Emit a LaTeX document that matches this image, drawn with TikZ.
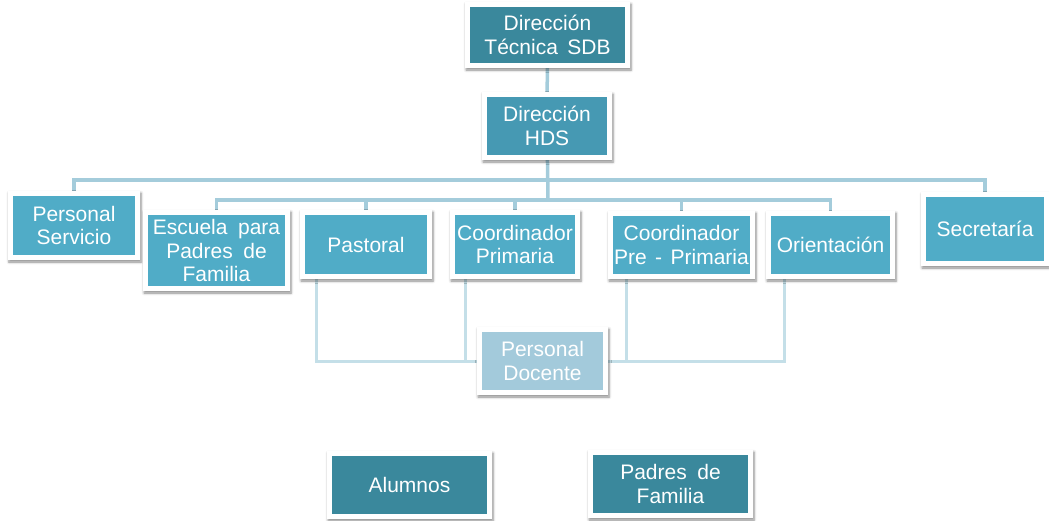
\documentclass[tikz,border=0pt]{standalone}
\usepackage{fontspec}
\setmainfont{Liberation Sans}
\usepackage{tikz}
\usetikzlibrary{shadows,shadows.blur,backgrounds,positioning}

\definecolor{tealdark}{HTML}{3A889C}
\definecolor{tealmid}{HTML}{4699B3}
\definecolor{teallight}{HTML}{50ACC7}
\definecolor{tealpale}{HTML}{A3CADB}
\definecolor{linkcol}{HTML}{A4CCDB}
\definecolor{linkpale}{HTML}{C4DFE8}

\begin{document}
\begin{tikzpicture}[x=1pt,y=-1pt,
    box/.style={rectangle,fill=white,text=white,align=center,inner sep=0pt,
        font=\fontsize{21}{23.5}\selectfont,
        path picture={\fill[#1] ([shift={(5pt,5pt)}]path picture bounding box.south west)
            rectangle ([shift={(-5pt,-5pt)}]path picture bounding box.north east);},
        blur shadow={shadow xshift=1pt,shadow yshift=-2pt,shadow opacity=45,
            shadow blur steps=6,shadow blur radius=2.5pt}},
    link/.style={linkcol,line width=3.5pt},
    softlink/.style={linkpale,line width=3pt}]

    \useasboundingbox (0,0) rectangle (1049,520);

    % Top of the chart
    \node[box=tealdark,minimum width=165pt,minimum height=66pt] (sdb) at (547.5,35) {Dirección\\Técnica\hspace{0.45em}SDB};
    \node[box=tealmid,minimum width=130pt,minimum height=68pt] (hds) at (547,126) {Dirección\\HDS};

    % Middle row
    \node[box=teallight,minimum width=132pt,minimum height=69pt] (servicio) at (74,225.5) {Personal\\Servicio};
    \node[box=teallight,minimum width=147pt,minimum height=81pt] (escuela) at (216.5,250.5) {Escuela\hspace{0.5em}para\\Padres\hspace{0.5em}de\\Familia};
    \node[box=teallight,minimum width=132pt,minimum height=69pt] (pastoral) at (366,244.5) {Pastoral};
    \node[box=teallight,minimum width=130pt,minimum height=69pt] (primaria) at (515,244.5) {Coordinador\\Primaria};
    \node[box=teallight,minimum width=147pt,minimum height=68pt] (preprimaria) at (681.5,245) {Coordinador\\Pre\hspace{0.4em}-\hspace{0.4em}Primaria};
    \node[box=teallight,minimum width=129pt,minimum height=68pt] (orientacion) at (830.5,245) {Orientación};
    \node[box=teallight,minimum width=128pt,minimum height=74pt] (secretaria) at (985,229) {Secretaría};

    % Teachers and bottom row
    \node[box=tealpale,minimum width=131pt,minimum height=68pt] (docente) at (542.5,361) {Personal\\Docente};
    \node[box=tealdark,minimum width=165pt,minimum height=68pt] (alumnos) at (409.5,485) {Alumnos};
    \node[box=tealdark,minimum width=165pt,minimum height=68pt] (padres) at (670.5,484) {Padres\hspace{0.5em}de\\Familia};

    \coordinate (bar1) at (548,180);
    \coordinate (bar2) at (548,200);

    % Draw the connectors behind the boxes
    \begin{scope}[on background layer]
        \draw[link] (sdb) -- (hds);
        \draw[link] (hds) -- (bar2);
        \draw[link] (servicio.north) |- (bar1) -| (secretaria.north);
        \draw[link] (escuela.north) |- (bar2) -| (orientacion.north);
        \draw[link] (pastoral.north) -- (pastoral.north |- bar2);
        \draw[link] (primaria.north) -- (primaria.north |- bar2);
        \draw[link] (preprimaria.north) -- (preprimaria.north |- bar2);

        \draw[softlink] ([xshift=17pt]pastoral.south west) |- (docente.west);
        \draw[softlink] ([xshift=16pt]primaria.south west) |- (docente.west);
        \draw[softlink] ([xshift=19pt]preprimaria.south west) |- (docente.east);
        \draw[softlink] ([xshift=19pt]orientacion.south west) |- (docente.east);
    \end{scope}

\end{tikzpicture}
\end{document}
